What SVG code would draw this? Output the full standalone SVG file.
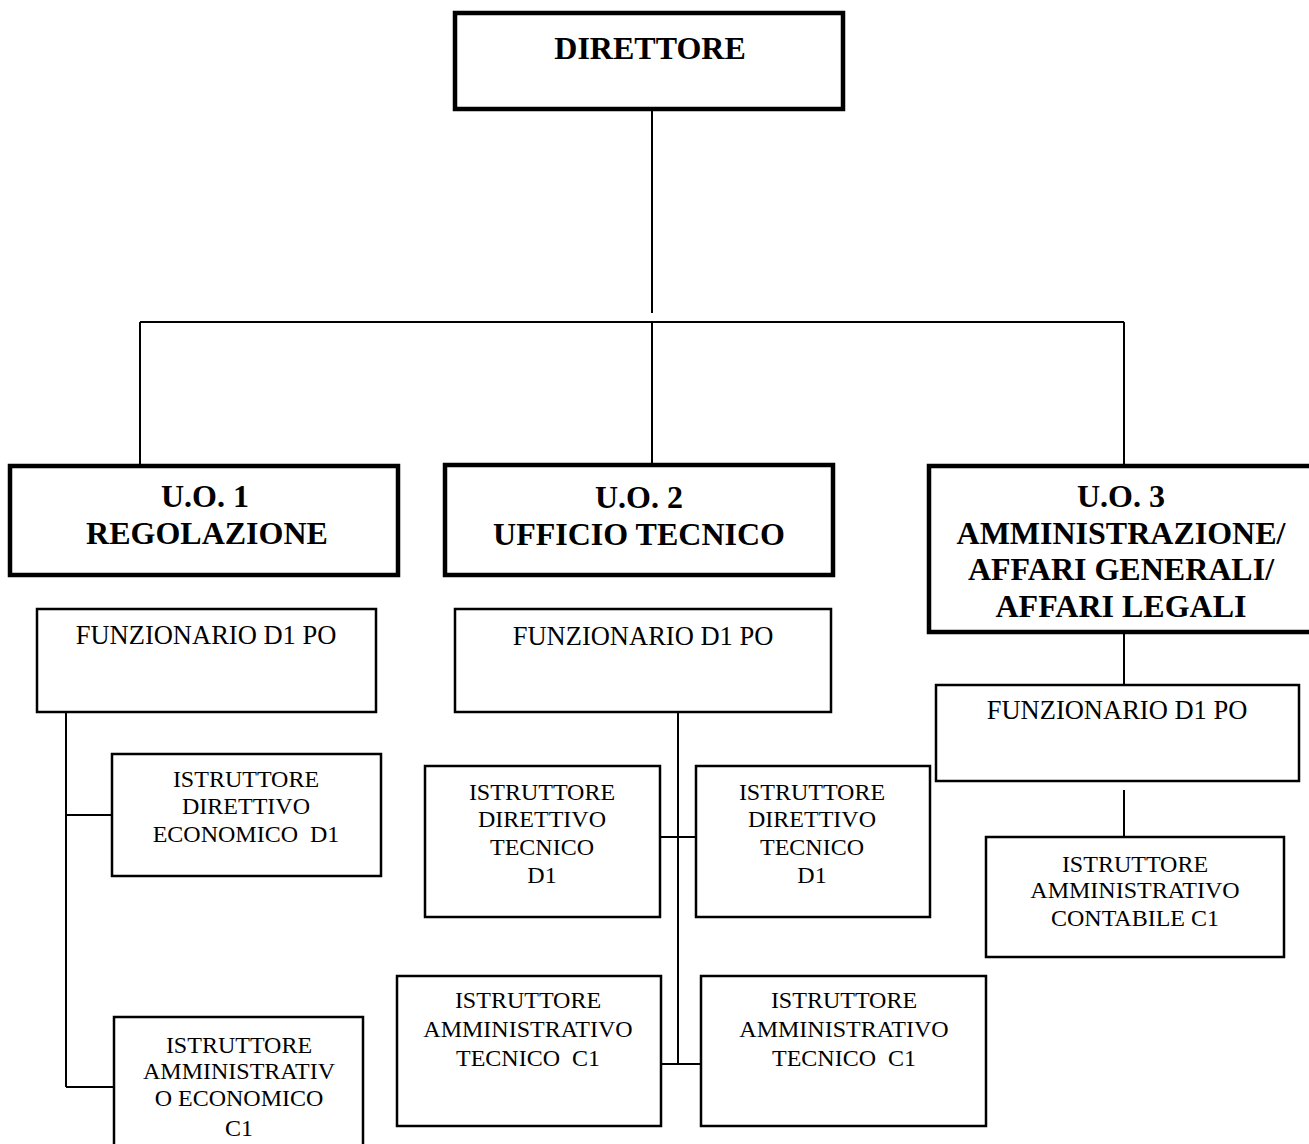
<svg xmlns="http://www.w3.org/2000/svg" width="1309" height="1144" viewBox="0 0 1309 1144">
<style>
.thick{fill:#fff;stroke:#000;stroke-width:4.5}
.thin{fill:#fff;stroke:#000;stroke-width:2.5}
.conn line{stroke:#000;stroke-width:2}
.b{font-family:"Liberation Serif","Times New Roman",serif;font-weight:bold;font-size:32px;text-anchor:middle;fill:#000}
.f{font-family:"Liberation Serif","Times New Roman",serif;font-size:26.5px;text-anchor:middle;fill:#000}
.r{font-family:"Liberation Serif","Times New Roman",serif;font-size:24px;text-anchor:middle;fill:#000;white-space:pre}
</style>
<rect width="1309" height="1144" fill="#fff"/>
<g id="connectors" class="conn">
<line x1="652" y1="110" x2="652" y2="313"/>
<line x1="140" y1="322" x2="1124" y2="322"/>
<line x1="140" y1="322" x2="140" y2="466"/>
<line x1="652" y1="322" x2="652" y2="465"/>
<line x1="1124" y1="322" x2="1124" y2="466"/>
<line x1="66" y1="712" x2="66" y2="1087"/>
<line x1="66" y1="815" x2="112" y2="815"/>
<line x1="66" y1="1087" x2="114" y2="1087"/>
<line x1="678" y1="712" x2="678" y2="1064"/>
<line x1="660" y1="837" x2="696" y2="837"/>
<line x1="661" y1="1064" x2="701" y2="1064"/>
<line x1="1124" y1="632" x2="1124" y2="685"/>
<line x1="1124" y1="790" x2="1124" y2="837"/>
</g>
<g id="direttore">
<rect class="thick" x="455" y="13" width="388" height="96"/>
<text class="b" x="650" y="59">DIRETTORE</text>
</g>
<g id="uo1">
<rect class="thick" x="10" y="466" width="388" height="109"/>
<text class="b" x="205" y="507">U.O. 1</text>
<text class="b" x="207" y="544">REGOLAZIONE</text>
</g>
<g id="uo2">
<rect class="thick" x="445" y="465" width="388" height="110"/>
<text class="b" x="639" y="508">U.O. 2</text>
<text class="b" x="639" y="545">UFFICIO TECNICO</text>
</g>
<g id="uo3">
<rect class="thick" x="929" y="466" width="386" height="166"/>
<text class="b" x="1121" y="507">U.O. 3</text>
<text class="b" x="1121" y="544">AMMINISTRAZIONE/</text>
<text class="b" x="1121" y="580">AFFARI GENERALI/</text>
<text class="b" x="1121" y="617">AFFARI LEGALI</text>
</g>
<g id="funz1">
<rect class="thin" x="37" y="609" width="339" height="103"/>
<text class="f" x="206" y="644">FUNZIONARIO D1 PO</text>
</g>
<g id="funz2">
<rect class="thin" x="455" y="609" width="376" height="103"/>
<text class="f" x="643" y="645">FUNZIONARIO D1 PO</text>
</g>
<g id="funz3">
<rect class="thin" x="936" y="685" width="363" height="96"/>
<text class="f" x="1117" y="719">FUNZIONARIO D1 PO</text>
</g>
<g id="istr-dir-econ">
<rect class="thin" x="112" y="754" width="269" height="122"/>
<text class="r" x="246" y="787">ISTRUTTORE</text>
<text class="r" x="246" y="814">DIRETTIVO</text>
<text class="r" x="246" y="842">ECONOMICO  D1</text>
</g>
<g id="istr-amm-econ">
<rect class="thin" x="114" y="1017" width="249" height="140"/>
<text class="r" x="239" y="1053">ISTRUTTORE</text>
<text class="r" x="239" y="1079">AMMINISTRATIV</text>
<text class="r" x="239" y="1106">O ECONOMICO</text>
<text class="r" x="239" y="1136">C1</text>
</g>
<g id="istr-dir-tec-1">
<rect class="thin" x="425" y="766" width="235" height="151"/>
<text class="r" x="542" y="800">ISTRUTTORE</text>
<text class="r" x="542" y="827">DIRETTIVO</text>
<text class="r" x="542" y="855">TECNICO</text>
<text class="r" x="542" y="883">D1</text>
</g>
<g id="istr-dir-tec-2">
<rect class="thin" x="696" y="766" width="234" height="151"/>
<text class="r" x="812" y="800">ISTRUTTORE</text>
<text class="r" x="812" y="827">DIRETTIVO</text>
<text class="r" x="812" y="855">TECNICO</text>
<text class="r" x="812" y="883">D1</text>
</g>
<g id="istr-amm-tec-1">
<rect class="thin" x="397" y="976" width="264" height="150"/>
<text class="r" x="528" y="1008">ISTRUTTORE</text>
<text class="r" x="528" y="1037">AMMINISTRATIVO</text>
<text class="r" x="528" y="1066">TECNICO  C1</text>
</g>
<g id="istr-amm-tec-2">
<rect class="thin" x="701" y="976" width="285" height="150"/>
<text class="r" x="844" y="1008">ISTRUTTORE</text>
<text class="r" x="844" y="1037">AMMINISTRATIVO</text>
<text class="r" x="844" y="1066">TECNICO  C1</text>
</g>
<g id="istr-amm-cont">
<rect class="thin" x="986" y="837" width="298" height="120"/>
<text class="r" x="1135" y="872">ISTRUTTORE</text>
<text class="r" x="1135" y="898">AMMINISTRATIVO</text>
<text class="r" x="1135" y="926">CONTABILE C1</text>
</g>
</svg>
